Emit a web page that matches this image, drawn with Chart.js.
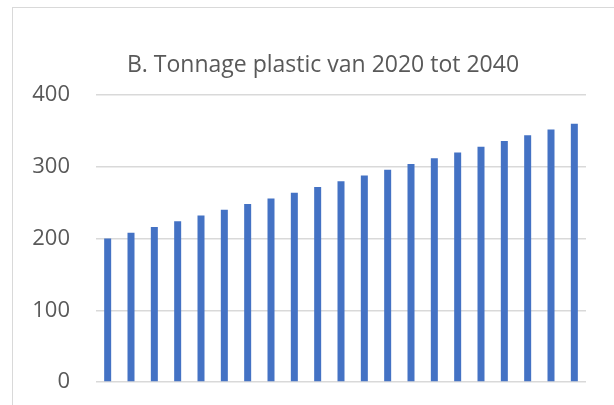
<!DOCTYPE html>
<html>
<head>
<meta charset="utf-8">
<script src="https://cdn.jsdelivr.net/npm/chart.js@4/dist/chart.umd.min.js"></script>
<style>
  html, body { margin: 0; padding: 0; background: #ffffff; overflow: hidden; }
  #wrap { position: relative; width: 614px; height: 405px; }
  #frame { position: absolute; left: 12px; top: 7px; width: 620px; height: 420px;
           border-left: 1.5px solid #d9d9d9; border-top: 1.5px solid #d9d9d9; }
  canvas { position: absolute; left: 0; top: 0; }
</style>
</head>
<body>
<div id="wrap">
  <div id="frame"></div>
  <canvas id="c" width="614" height="405"></canvas>
</div>
<script>
const titleText = "B. Tonnage plastic van 2020 tot 2040";
const years = ["2020","2021","2022","2023","2024","2025","2026","2027","2028","2029","2030",
               "2031","2032","2033","2034","2035","2036","2037","2038","2039","2040"];
const tonnage = [200, 208, 216, 224, 232, 240, 248, 256, 264, 272, 280,
                 288, 296, 304, 312, 320, 328, 336, 344, 352, 360];
const yTicks = [0, 100, 200, 300, 400];

const textColor = "#595959";
const gridColor = "#d9d9d9";
const barColor = "#4472C4";

new Chart(document.getElementById("c"), {
  type: "bar",
  data: {
    labels: years,
    datasets: [{
      data: tonnage,
      yAxisID: "y",
      backgroundColor: barColor,
      borderWidth: 0,
      barPercentage: 0.3,
      categoryPercentage: 1.0
    }]
  },
  options: {
    responsive: false,
    animation: false,
    layout: { padding: { left: 32, right: 0, top: 0, bottom: 23 } },
    plugins: {
      legend: { display: false },
      tooltip: { enabled: false },
      title: {
        display: true,
        text: titleText,
        color: textColor,
        font: { family: "'Open Sans', sans-serif", size: 23, weight: "normal", lineHeight: 1.2 },
        padding: { top: 52, bottom: 15.5 }
      }
    },
    scales: {
      x: {
        display: false,
        grid: { display: false }
      },
      y: {
        position: "left",
        min: 0,
        max: 400,
        afterFit: (scale) => { scale.width = 64; },
        afterBuildTicks: (scale) => { scale.ticks = yTicks.map(v => ({ value: v })); },
        border: { display: false },
        grid: { color: gridColor, lineWidth: 1.5, drawTicks: true, tickLength: 26, tickColor: "rgba(0,0,0,0)" },
        ticks: {
          color: textColor,
          padding: 0,
          font: { family: "'Open Sans', sans-serif", size: 22 }
        }
      },
      yRight: {
        type: "linear",
        position: "right",
        display: true,
        afterFit: (scale) => { scale.width = 28; },
        border: { display: false },
        grid: { display: false, drawTicks: false },
        ticks: { display: false }
      }
    }
  }
});
</script>
</body>
</html>
